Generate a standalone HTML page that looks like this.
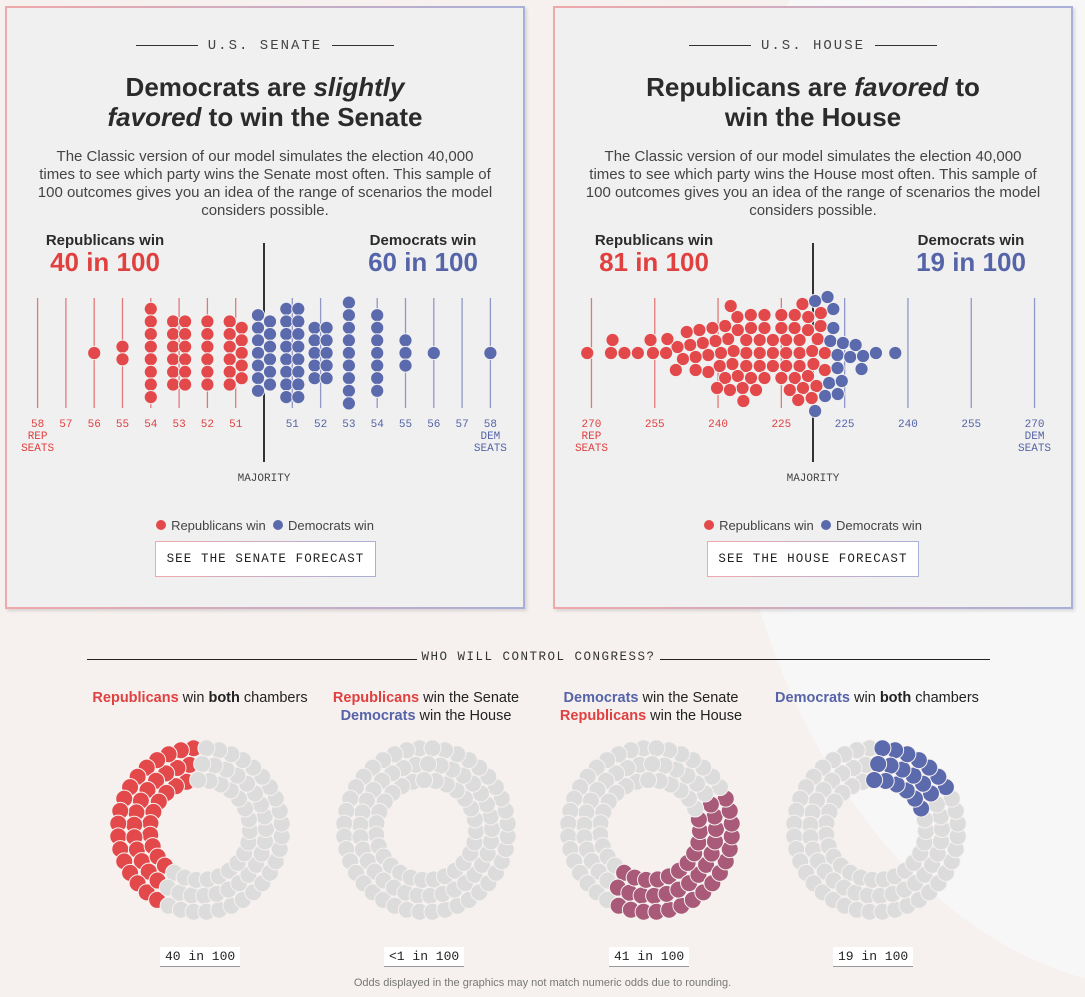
<!DOCTYPE html>
<html><head><meta charset="utf-8">
<style>
*{box-sizing:border-box;margin:0;padding:0}
html{width:1085px;height:997px;overflow:hidden}
body{width:1085px;height:997px;overflow:hidden;background:#f6f1ef;font-family:"Liberation Sans",sans-serif;color:#333;position:relative}
.bgwrap{position:absolute;left:0;top:0;width:1085px;height:997px;overflow:hidden}
.bgshape{position:absolute;left:720px;top:-300px;width:900px;height:1290px;border-radius:50%;background:#f8f7f8}
.panel{position:absolute;top:6px;width:520px;height:603px;background:#f0f0f0;border:2px solid;border-image:linear-gradient(90deg,#f0a8aa,#a9b0d8) 1;box-shadow:2px 2px 3px rgba(0,0,0,.12)}
.kicker{position:absolute;top:30px;width:100%;text-align:center;font-family:"Liberation Mono",monospace;font-size:14px;letter-spacing:2px;color:#444}
.kicker span{display:inline-block;width:62px;height:1px;background:#333;vertical-align:middle;margin:0 10px}
h2{position:absolute;top:64px;width:100%;text-align:center;font-size:26px;line-height:30px;font-weight:bold;color:#2b2b2b}
.desc{position:absolute;top:140px;left:30px;width:456px;text-align:center;font-size:15px;line-height:18px;color:#444}
.btn{position:absolute;top:533px;height:36px;background:#fff;border:1px solid;border-image:linear-gradient(90deg,#f0a8aa,#a9b0d8) 1;font-family:"Liberation Mono",monospace;font-size:12.5px;letter-spacing:1.1px;line-height:34px;text-align:center;color:#222;white-space:nowrap}
.legend{position:absolute;top:510px;width:100%;text-align:center;font-size:13px;color:#444}
.legend i{display:inline-block;width:10px;height:10px;border-radius:50%;vertical-align:0;margin-right:5px}
svg{position:absolute;left:0;top:0}
.sec{position:absolute;top:650px;left:87px;width:903px;text-align:center;font-family:"Liberation Mono",monospace;font-size:12.5px;letter-spacing:1.5px;color:#333}
.sec:before,.sec:after{content:"";position:absolute;top:9px;height:1px;background:#222;width:330px}
.sec:before{left:0}.sec:after{right:0}
.ct{position:absolute;top:689px;font-size:14.5px;line-height:18px;text-align:center;color:#222;width:240px}
.r{color:#e0403f;font-weight:bold}.b{color:#5563a8;font-weight:bold}
.odds{position:absolute;top:947px;background:#fff;font-family:"Liberation Mono",monospace;font-size:13px;padding:2px 5px;border-bottom:1px solid #999;color:#222}
.foot{position:absolute;top:977px;width:100%;text-align:center;font-size:11px;color:#777}
</style></head><body>
<div class="bgwrap"><div class="bgshape"></div></div>

<div class="panel" style="left:5px">
 <div class="kicker"><span></span>U.S. SENATE<span></span></div>
 <h2>Democrats are <i>slightly</i><br><i>favored</i> to win the Senate</h2>
 <p class="desc">The Classic version of our model simulates the election 40,000 times to see which party wins the Senate most often. This sample of 100 outcomes gives you an idea of the range of scenarios the model considers possible.</p>
 <div class="legend"><i style="background:#e3494a"></i>Republicans win &nbsp;<i style="background:#5b69ad"></i>Democrats win</div>
 <div class="btn" style="left:148px;width:221px">SEE THE SENATE FORECAST</div>
</div>
<div class="panel" style="left:553px">
 <div class="kicker"><span></span>U.S. HOUSE<span></span></div>
 <h2>Republicans are <i>favored</i> to<br>win the House</h2>
 <p class="desc">The Classic version of our model simulates the election 40,000 times to see which party wins the House most often. This sample of 100 outcomes gives you an idea of the range of scenarios the model considers possible.</p>
 <div class="legend"><i style="background:#e3494a"></i>Republicans win &nbsp;<i style="background:#5b69ad"></i>Democrats win</div>
 <div class="btn" style="left:152px;width:212px">SEE THE HOUSE FORECAST</div>
</div>

<svg id="chart" width="1085" height="997"></svg>

<div class="sec">WHO WILL CONTROL CONGRESS?</div>
<div class="ct" style="left:80px"><span class="r">Republicans</span> win <b>both</b> chambers</div>
<div class="ct" style="left:306px"><span class="r">Republicans</span> win the Senate<br><span class="b">Democrats</span> win the House</div>
<div class="ct" style="left:531px"><span class="b">Democrats</span> win the Senate<br><span class="r">Republicans</span> win the House</div>
<div class="ct" style="left:757px"><span class="b">Democrats</span> win <b>both</b> chambers</div>
<div class="odds" style="left:160px">40 in 100</div>
<div class="odds" style="left:384px">&lt;1 in 100</div>
<div class="odds" style="left:609px">41 in 100</div>
<div class="odds" style="left:833px">19 in 100</div>
<div class="foot">Odds displayed in the graphics may not match numeric odds due to rounding.</div>

<script>
// Senate: dem seat outcomes and counts
const senateSeats=[44,45,46,47,48,49,50,51,52,53,54,55,56,58];
const senateCounts=[1,2,8,12,6,11,13,16,10,9,7,3,1,1];
const senateTickSeats=[42,43,44,45,46,47,48,49,51,52,53,54,55,56,57,58];
const senateTickLabels=["58","57","56","55","54","53","52","51","51","52","53","54","55","56","57","58"];
const senateRepWins="40 in 100", senateDemWins="60 in 100";
// House: dem seats for 100 sampled outcomes
const houseDemSeats=[164,170,172,174,176,179,181,183,185,186,188,189,190,191,192,193,193,194,195,196,196,197,198,198,199,199,200,200,201,201,202,202,203,203,204,204,205,205,205,206,206,207,207,208,208,208,209,209,210,210,211,211,211,212,212,213,213,214,214,214,215,215,216,216,216,217,217,217,213,209,206,203,200,197,210,212,207,204,201,215,211,
218,218,218,218,219,219,219,220,220,220,221,221,222,223,225,227,229,231,237];
const houseTickSeats=[165,180,195,210,225,240,255,270];
const houseTickLabels=["270","255","240","225","225","240","255","270"];
const houseRepWins="81 in 100", houseDemWins="19 in 100";
// Congress control scenarios (counts of 100), in ring order
const scenarioNames=["rep-both","rep-senate-dem-house","dem-senate-rep-house","dem-both"];
const scenarioCounts=[40,0,41,19];

const NS="http://www.w3.org/2000/svg";
const svg=document.getElementById('chart');
const RED="#e3494a",BLUE="#5b69ad";
function el(tag,attrs,parent){const e=document.createElementNS(NS,tag);for(const k in attrs)e.setAttribute(k,attrs[k]);(parent||svg).appendChild(e);return e;}
function txt(x,y,s,attrs,parent){const t=el('text',Object.assign({x:x,y:y,'text-anchor':'middle'},attrs),parent);t.textContent=s;return t;}

// ---- Senate ----
const sx=d=>264+(d-50)*28.3;
const sg=el('g',{});


senateTickSeats.forEach((d,i)=>{
 const c=d<50?"#e07a7a":"#9098c8";
 const ln=el('line',{x1:sx(d),x2:sx(d),y1:298,y2:408,stroke:c,'stroke-width':1.3},sg);
 
 
 const t=txt(sx(d),427,senateTickLabels[i],{fill:d<50?"#e0403f":"#5563a8",'font-family':'Liberation Mono,monospace','font-size':11},sg);
 
 
});
[["REP",439,42],["SEATS",451,42],["DEM",439,58],["SEATS",451,58]].forEach(a=>{
 const t=txt(sx(a[2]),a[1],a[0],{fill:a[2]<50?"#e0403f":"#5563a8",'font-family':'Liberation Mono,monospace','font-size':11},sg);
 
 
});
const sm=el('line',{x1:264,x2:264,y1:243,y2:462,stroke:'#333','stroke-width':2},sg);


const smt=txt(264,481,"MAJORITY",{fill:'#444','font-family':'Liberation Mono,monospace','font-size':11},sg);


senateSeats.forEach((d,i)=>{
 const n=senateCounts[i],step=12.6,cy=353;
 let pts=[];
 if(n<=9){for(let k=0;k<n;k++)pts.push([sx(d),cy+(k-(n-1)/2)*step]);}
 else{const a=Math.ceil(n/2),b=n-a;
  for(let k=0;k<a;k++)pts.push([sx(d)-6,cy+(k-(a-1)/2)*step]);
  for(let k=0;k<b;k++)pts.push([sx(d)+6,cy+(k-(b-1)/2)*step]);}
 pts.forEach(p=>{const c=el('circle',{cx:p[0],cy:p[1],r:6.6,fill:d<50?RED:BLUE,stroke:'#f0f0f0','stroke-width':1},sg);
  
  });
});
[[105,245,"Republicans win","#2b2b2b",15],[105,271,senateRepWins,"#e0403f",26],[423,245,"Democrats win","#2b2b2b",15],[423,271,senateDemWins,"#5563a8",26]].forEach(a=>{
 const t=txt(a[0],a[1],a[2],{fill:a[3],'font-size':a[4],'font-weight':'bold'},sg);
 
 
});

// ---- House ----
const hx=d=>813+(d-217.5)*4.22;
const hg=el('g',{});


houseTickSeats.forEach((d,i)=>{
 const rep=d<218;
 const ln=el('line',{x1:hx(d),x2:hx(d),y1:298,y2:408,stroke:rep?"#e07a7a":"#9098c8",'stroke-width':1.3},hg);
 
 
 const t=txt(hx(d),427,houseTickLabels[i],{fill:rep?"#e0403f":"#5563a8",'font-family':'Liberation Mono,monospace','font-size':11},hg);
 
 
});
[["REP",439,165],["SEATS",451,165],["DEM",439,270],["SEATS",451,270]].forEach(a=>{
 const t=txt(hx(a[2]),a[1],a[0],{fill:a[2]<218?"#e0403f":"#5563a8",'font-family':'Liberation Mono,monospace','font-size':11},hg);
 
 
});
const hm=el('line',{x1:813,x2:813,y1:243,y2:462,stroke:'#333','stroke-width':2},hg);


const hmt=txt(813,481,"MAJORITY",{fill:'#444','font-family':'Liberation Mono,monospace','font-size':11},hg);


// compact beeswarm allowing small x displacement
(function(){
 const R=6.6,D=12.8,cy=353;
 const sorted=houseDemSeats.slice().sort((a,b)=>Math.abs(a-208)-Math.abs(b-208));
 const placed=[];
 sorted.forEach(d=>{
  const x0=hx(d);let best=null,bc=1e9;
  for(let dy=-60;dy<=60;dy+=1){
   for(let dx=-14;dx<=14;dx+=1){
    const c=Math.abs(dy)+1.2*Math.abs(dx);
    if(c>=bc)continue;
    const x=x0+dx,y=cy+dy;
    if(placed.every(p=>(p[0]-x)**2+(p[1]-y)**2>=D*D)){best=[x,y];bc=c;}
   }
  }
  placed.push([best[0],best[1],d]);
 });
 placed.forEach(p=>{const c=el('circle',{cx:p[0],cy:p[1],r:R,fill:p[2]<218?RED:BLUE,stroke:'#f0f0f0','stroke-width':1},hg);
  
  });
})();
[[654,245,"Republicans win","#2b2b2b",15],[654,271,houseRepWins,"#e0403f",26],[971,245,"Democrats win","#2b2b2b",15],[971,271,houseDemWins,"#5563a8",26]].forEach(a=>{
 const t=txt(a[0],a[1],a[2],{fill:a[3],'font-size':a[4],'font-weight':'bold'},hg);
 
 
});

// ---- Donuts ----
(function(){
 const rings=[[82,40],[66,33],[50,27]];
 const dots=[];
 rings.forEach((rg,ri)=>{for(let k=0;k<rg[1];k++){const a=(k+0.5+ri*0.33)/rg[1];dots.push({r:rg[0],a:a});}});
 dots.sort((p,q)=>p.a-q.a);
 const cum=[];let s=0;scenarioCounts.forEach(c=>{s+=c;cum.push(s);});
 const colors=[RED,"#e6a0a0","#a85a78",BLUE];
 const centers=[200,426,650,876];
 scenarioNames.forEach((nm,si)=>{
  const g=el('g',{});
  
  
  dots.forEach((p,i)=>{
   const lo=si===0?0:cum[si-1],hi=cum[si];
   const on=i>=lo&&i<hi;
   const ang=p.a*2*Math.PI;
   const x=centers[si]-p.r*Math.sin(ang),y=830-p.r*Math.cos(ang);
   const c=el('circle',{cx:x,cy:y,r:8.5,fill:on?colors[si]:'#dcdcdc',stroke:'#f6f1ef','stroke-width':1},g);
   
   
  });
 });
})();
</script>
</body></html>
